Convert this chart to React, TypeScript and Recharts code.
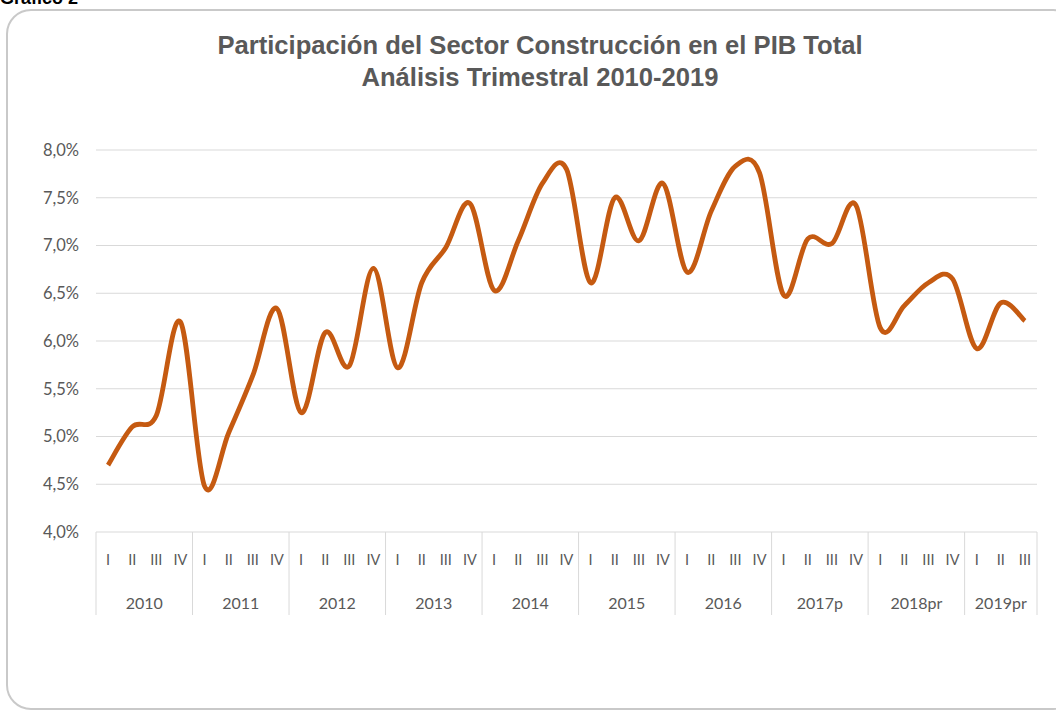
import React from 'react';
import { LineChart, Line, XAxis, YAxis, CartesianGrid } from 'recharts';

const quarterLabels = ['I', 'II', 'III', 'IV'];
const yearLabels = ['2010', '2011', '2012', '2013', '2014', '2015', '2016', '2017p', '2018pr', '2019pr'];
const quartersPerYear = [4, 4, 4, 4, 4, 4, 4, 4, 4, 3];
const constructionShare = [
  4.70, 5.10, 5.22, 6.20,
  4.48, 5.04, 5.64, 6.34,
  5.25, 6.09, 5.74, 6.76,
  5.72, 6.61, 6.98, 7.44,
  6.53, 7.05, 7.65, 7.80,
  6.61, 7.50, 7.05, 7.65,
  6.72, 7.36, 7.83, 7.76,
  6.48, 7.07, 7.02, 7.42,
  6.14, 6.37, 6.61, 6.65,
  5.92, 6.40, 6.21,
];
const yTicks = [4.0, 4.5, 5.0, 5.5, 6.0, 6.5, 7.0, 7.5, 8.0];

type Row = { key: string; q: string; year: string; qi: number; n: number; value: number };
const data: Row[] = [];
{
  let k = 0;
  yearLabels.forEach((yr, yi) => {
    for (let qi = 0; qi < quartersPerYear[yi]; qi++) {
      data.push({ key: `${yr}-${qi}`, q: quarterLabels[qi], year: yr, qi, n: quartersPerYear[yi], value: constructionShare[k] });
      k++;
    }
  });
}

const W = 1056;
const H = 711;
const LEFT = 96;
const RIGHT = 19;
const TOP = 150;
const XAXIS_H = 83;
const BOTTOM = H - 532 - XAXIS_H;
const SLOT = (W - LEFT - RIGHT) / data.length;
const TEXT = '#595959';
const FONT = 'Lato, "Open Sans", sans-serif';

// Excel-like smoothed line (Catmull-Rom style Bezier)
function excelCurve(context: any) {
  let xs: number[] = [];
  let ys: number[] = [];
  return {
    areaStart() {},
    areaEnd() {},
    lineStart() { xs = []; ys = []; },
    point(x: number, y: number) { xs.push(+x); ys.push(+y); },
    lineEnd() {
      const n = xs.length;
      if (!n) return;
      context.moveTo(xs[0], ys[0]);
      for (let i = 0; i < n - 1; i++) {
        const i0 = Math.max(i - 1, 0);
        const i3 = Math.min(i + 2, n - 1);
        const c1x = xs[i] + (xs[i + 1] - xs[i0]) / 6;
        const c1y = ys[i] + (ys[i + 1] - ys[i0]) / 6;
        const c2x = xs[i + 1] - (xs[i3] - xs[i]) / 6;
        const c2y = ys[i + 1] - (ys[i3] - ys[i]) / 6;
        context.bezierCurveTo(c1x, c1y, c2x, c2y, xs[i + 1], ys[i + 1]);
      }
    },
  };
}

const XTick = (props: any) => {
  const { x, y, payload } = props;
  const i = payload.index;
  const d = data[i];
  if (!d) return null;
  const els: React.ReactNode[] = [];
  els.push(
    <text key="q" x={x} y={y + 27} textAnchor="middle" dominantBaseline="central" fill={TEXT} fontSize={14.5} fontFamily={FONT}>
      {d.q}
    </text>
  );
  if (d.qi === 0) {
    const left = x - SLOT / 2;
    els.push(<line key="l" x1={left} x2={left} y1={y} y2={y + XAXIS_H} stroke="#d9d9d9" strokeWidth={1} />);
    els.push(
      <text key="y" x={left + (d.n * SLOT) / 2} y={y + 70} textAnchor="middle" dominantBaseline="central" fill={TEXT} fontSize={16} fontFamily={FONT}>
        {d.year}
      </text>
    );
  }
  if (i === data.length - 1) {
    const right = x + SLOT / 2;
    els.push(<line key="r" x1={right} x2={right} y1={y} y2={y + XAXIS_H} stroke="#d9d9d9" strokeWidth={1} />);
  }
  return <g>{els}</g>;
};

export default function App() {
  return (
    <div style={{ position: 'absolute', left: 0, top: 0, width: W, height: H, overflow: 'hidden', background: '#ffffff' }}>
      <svg width={W} height={H} style={{ position: 'absolute', left: 0, top: 0 }}>
        <text x={0} y={4} fontFamily='"Liberation Sans", Arial, sans-serif' fontWeight="bold" fontSize={18} fill="#000">
          Gráfico 2
        </text>
        <rect x={7} y={10} width={1070} height={699} rx={24} ry={24} fill="none" stroke="#c9c9c9" strokeWidth={2} />
        <text x={540} y={54} textAnchor="middle" fontFamily='"Liberation Sans", Arial, sans-serif' fontWeight="bold" fontSize={25.6} fill={TEXT}>
          Participación del Sector Construcción en el PIB Total
        </text>
        <text x={540} y={86} textAnchor="middle" fontFamily='"Liberation Sans", Arial, sans-serif' fontWeight="bold" fontSize={25.6} fill={TEXT}>
          Análisis Trimestral 2010-2019
        </text>
      </svg>
      <div style={{ position: 'absolute', left: 0, top: 0 }}>
        <LineChart width={W} height={H} data={data} margin={{ top: TOP, right: RIGHT, bottom: BOTTOM, left: 0 }}>
          <CartesianGrid vertical={false} stroke="#d9d9d9" strokeWidth={1.2} />
          <XAxis
            dataKey="key"
            type="category"
            interval={0}
            height={XAXIS_H}
            padding={{ left: SLOT / 2, right: SLOT / 2 }}
            axisLine={false}
            tickLine={false}
            tickSize={0}
            tickMargin={0}
            tick={<XTick />}
          />
          <YAxis
            width={LEFT}
            domain={[4, 8]}
            ticks={yTicks}
            axisLine={false}
            tickLine={false}
            tickSize={0}
            tickMargin={17}
            tick={{ fill: TEXT, fontSize: 16.5, fontFamily: FONT }}
            tickFormatter={(v: number) => v.toFixed(1).replace('.', ',') + '%'}
          />
          <Line
            type={excelCurve as any}
            dataKey="value"
            stroke="#C55A11"
            strokeWidth={4.8}
            dot={false}
            activeDot={false}
            isAnimationActive={false}
          />
        </LineChart>
      </div>
    </div>
  );
}
